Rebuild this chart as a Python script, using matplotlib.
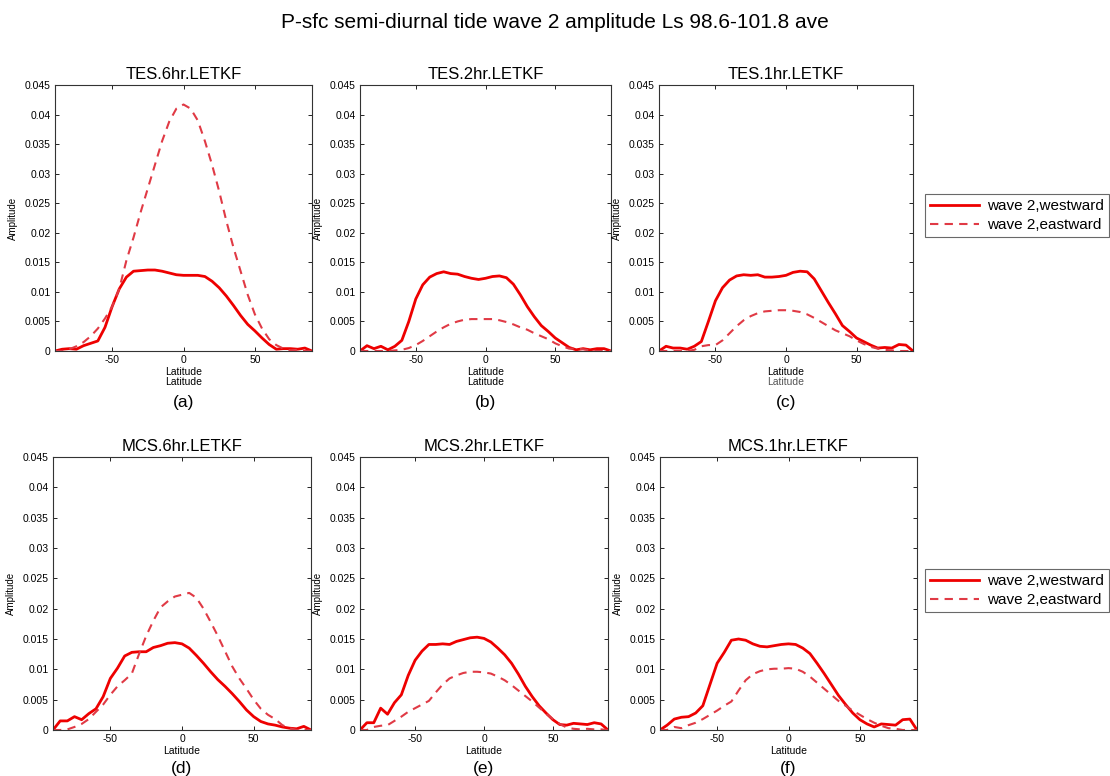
import matplotlib
matplotlib.use("Agg")
import matplotlib.pyplot as plt
from matplotlib.lines import Line2D
from matplotlib.ticker import FixedLocator, FuncFormatter

plt.rcParams["font.family"] = ["Liberation Sans", "DejaVu Sans"]
plt.rcParams["axes.unicode_minus"] = False

lat = list(range(-90, 91, 5))

# TES runs (top row)
tes6_west = [0, 0.0003, 0.0004, 0.0003, 0.0009, 0.0013, 0.0017, 0.004, 0.0075, 0.0105, 0.0125,
             0.0135, 0.0136, 0.0137, 0.0137, 0.0135, 0.0132, 0.0129, 0.0128, 0.0128, 0.0128,
             0.0126, 0.0118, 0.0107, 0.0093, 0.0077, 0.006, 0.0045, 0.0034, 0.0022, 0.0011,
             0.0003, 0.0004, 0.0004, 0.0003, 0.0005, 0]
tes6_east = [0, 0, 0.0003, 0.0008, 0.0015, 0.0025, 0.0038, 0.0055, 0.0075, 0.0105, 0.0153,
             0.0192, 0.0235, 0.0275, 0.0315, 0.0355, 0.0388, 0.041, 0.0417, 0.041, 0.039,
             0.0355, 0.0315, 0.027, 0.022, 0.0175, 0.0135, 0.0095, 0.0062, 0.0038, 0.002,
             0.001, 0.0004, 0.0001, 0.0002, 0, 0]
tes2_west = [0, 0.0009, 0.0004, 0.0008, 0.0002, 0.0008, 0.0018, 0.005, 0.0088, 0.0112, 0.0125,
             0.0131, 0.0134, 0.0131, 0.013, 0.0126, 0.0123, 0.0121, 0.0123, 0.0126, 0.0127,
             0.0124, 0.0113, 0.0095, 0.0075, 0.0058, 0.0043, 0.0033, 0.0022, 0.0014, 0.0006,
             0.0002, 0.0004, 0.0002, 0.0004, 0.0004, 0]
tes2_east = [0, 0, 0, 0, 0, 0.0001, 0.0002, 0.0005, 0.001, 0.0017, 0.0025,
             0.0033, 0.004, 0.0046, 0.005, 0.0053, 0.0054, 0.0054, 0.0054, 0.0054, 0.0052,
             0.0049, 0.0045, 0.004, 0.0036, 0.003, 0.0025, 0.002, 0.0013, 0.0008, 0.0004,
             0.0004, 0.0003, 0.0001, 0, 0, 0]
tes1_west = [0, 0.0008, 0.0005, 0.0005, 0.0003, 0.0008, 0.0016, 0.005, 0.0085, 0.0107, 0.012,
             0.0127, 0.0129, 0.0128, 0.0129, 0.0125, 0.0125, 0.0126, 0.0128, 0.0133, 0.0135,
             0.0134, 0.0122, 0.0102, 0.0082, 0.0063, 0.0043, 0.0033, 0.0022, 0.0016, 0.001,
             0.0005, 0.0006, 0.0005, 0.0011, 0.001, 0]
tes1_east = [0, 0, 0, 0, 0, 0.0002, 0.0008, 0.001, 0.001, 0.0018, 0.003,
             0.0042, 0.0052, 0.0059, 0.0064, 0.0067, 0.0068, 0.0069, 0.0069, 0.0068, 0.0066,
             0.0062, 0.0056, 0.0049, 0.0042, 0.0035, 0.003, 0.0025, 0.0018, 0.0012, 0.0007,
             0.0004, 0.0002, 0.0001, 0, 0, 0]

# MCS runs (bottom row)
mcs6_west = [0, 0.0015, 0.0015, 0.0022, 0.0017, 0.0027, 0.0035, 0.0055, 0.0085, 0.0102, 0.0122,
             0.0128, 0.0129, 0.0129, 0.0136, 0.0139, 0.0143, 0.0144, 0.0142, 0.0135, 0.0123,
             0.011, 0.0096, 0.0083, 0.0072, 0.006, 0.0047, 0.0033, 0.0022, 0.0014, 0.001,
             0.0008, 0.0005, 0.0003, 0.0002, 0.0006, 0]
mcs6_east = [0, 0, 0.0001, 0.0005, 0.001, 0.0018, 0.003, 0.0042, 0.0058, 0.0072, 0.0082,
             0.0093, 0.0125, 0.0155, 0.018, 0.0202, 0.0212, 0.022, 0.0223, 0.0226, 0.0218,
             0.02, 0.0178, 0.0155, 0.013, 0.0105, 0.0085, 0.0068, 0.005, 0.0035, 0.0025,
             0.0018, 0.0008, 0.0003, 0, 0, 0]
mcs2_west = [0, 0.0012, 0.0012, 0.0036, 0.0026, 0.0045, 0.0058, 0.009, 0.0115, 0.013, 0.0141,
             0.0141, 0.0142, 0.0141, 0.0146, 0.0149, 0.0152, 0.0153, 0.0151, 0.0145, 0.0135,
             0.0124, 0.011, 0.0092, 0.0072, 0.0055, 0.004, 0.0028, 0.0017, 0.0009, 0.0008,
             0.0011, 0.001, 0.0009, 0.0012, 0.001, 0]
mcs2_east = [0, 0, 0.0005, 0.0007, 0.0008, 0.0015, 0.0022, 0.003, 0.0036, 0.0042, 0.0048,
             0.0062, 0.0075, 0.0085, 0.009, 0.0094, 0.0096, 0.0096, 0.0095, 0.0093, 0.0088,
             0.0082, 0.0074, 0.0065, 0.0056, 0.0047, 0.0037, 0.0027, 0.0018, 0.001, 0.0004,
             0.0002, 0.0001, 0.0002, 0.0001, 0.0001, 0]
mcs1_west = [0, 0.0008, 0.0018, 0.0021, 0.0022, 0.0028, 0.004, 0.0075, 0.011, 0.0128, 0.0148,
             0.015, 0.0148, 0.0142, 0.0138, 0.0137, 0.0139, 0.0141, 0.0142, 0.0141, 0.0135,
             0.0126, 0.011, 0.0093, 0.0075, 0.0057, 0.0042, 0.0028, 0.0017, 0.001, 0.0005,
             0.001, 0.0009, 0.0008, 0.0017, 0.0018, 0]
mcs1_east = [0, 0, 0.0005, 0.0003, 0.0008, 0.0012, 0.0018, 0.0025, 0.0032, 0.004, 0.0047,
             0.0065, 0.0082, 0.0092, 0.0097, 0.01, 0.0101, 0.0101, 0.0102, 0.0101, 0.0096,
             0.0088, 0.0078, 0.0068, 0.0058, 0.0048, 0.004, 0.0032, 0.0025, 0.0018, 0.0012,
             0.0007, 0.0003, 0.0002, 0, 0, 0]

titles = ["TES.6hr.LETKF", "TES.2hr.LETKF", "TES.1hr.LETKF",
          "MCS.6hr.LETKF", "MCS.2hr.LETKF", "MCS.1hr.LETKF"]
letters = ["(a)", "(b)", "(c)", "(d)", "(e)", "(f)"]
west = [tes6_west, tes2_west, tes1_west, mcs6_west, mcs2_west, mcs1_west]
east = [tes6_east, tes2_east, tes1_east, mcs6_east, mcs2_east, mcs1_east]
yticks = [0, 0.005, 0.01, 0.015, 0.02, 0.025, 0.03, 0.035, 0.04, 0.045]

W, H = 1110, 776
# axes boxes in pixels: left, top, right, bottom
boxes = [(55, 85, 312, 351), (360, 85, 611, 351), (659, 85, 913, 351),
         (53, 457, 311, 730), (360, 457, 608, 730), (660, 457, 917, 730)]

fig = plt.figure(figsize=(W / 100, H / 100), dpi=100)
fig.suptitle("P-sfc semi-diurnal tide wave 2 amplitude Ls 98.6-101.8 ave",
             y=1 - 22 / H, va="center", fontsize=15)

for i, (l, t, r, b) in enumerate(boxes):
    ax = fig.add_axes([l / W, 1 - b / H, (r - l) / W, (b - t) / H])
    ax.plot(lat, west[i], color="#ee0000", lw=2.0, solid_joinstyle="round")
    ax.plot(lat, east[i], color="#e03a45", lw=1.5, ls=(0, (4, 3)))
    ax.set_xlim(-90, 90)
    ax.set_ylim(0, 0.045)
    ax.xaxis.set_major_locator(FixedLocator([-50, 0, 50]))
    ax.yaxis.set_major_locator(FixedLocator(yticks))
    ax.yaxis.set_major_formatter(FuncFormatter(lambda v, p: "%g" % round(v, 4)))
    ax.tick_params(direction="in", length=3, width=0.6, labelsize=7.5,
                   top=True, right=True, pad=3)
    for sp in ax.spines.values():
        sp.set_linewidth(0.8)
        sp.set_color("#333333")
    ax.set_title(titles[i], fontsize=12, pad=4)
    ax.set_ylabel("Amplitude", fontsize=7, labelpad=5)
    ax.set_xlabel("Latitude", fontsize=7.5, labelpad=1)
    if i < 3:
        # top row carries the label twice, the third one a lighter grey
        ax.text(0.5, -0.098, "Latitude", transform=ax.transAxes, ha="center", va="top",
                fontsize=7.5, color="#555555" if i == 2 else "black")
        ly = 402
    else:
        ly = 768
    fig.text((l + r) / 2 / W, 1 - ly / H, letters[i], ha="center", va="center", fontsize=12.5)

handles = [Line2D([], [], color="#ee0000", lw=2.0),
           Line2D([], [], color="#e03a45", lw=1.5, ls=(0, (4, 3)))]
labels = ["wave 2,westward", "wave 2,eastward"]
for top in (194, 569):
    leg = fig.legend(handles, labels, loc="upper left",
                     bbox_to_anchor=(925 / W, 1 - top / H), fontsize=11,
                     frameon=True, fancybox=False, borderpad=0.35, labelspacing=0.3,
                     handlelength=3.2, handletextpad=0.5, borderaxespad=0)
    leg.get_frame().set_edgecolor("#444444")
    leg.get_frame().set_linewidth(0.8)

fig.savefig("out.png", dpi=100)
